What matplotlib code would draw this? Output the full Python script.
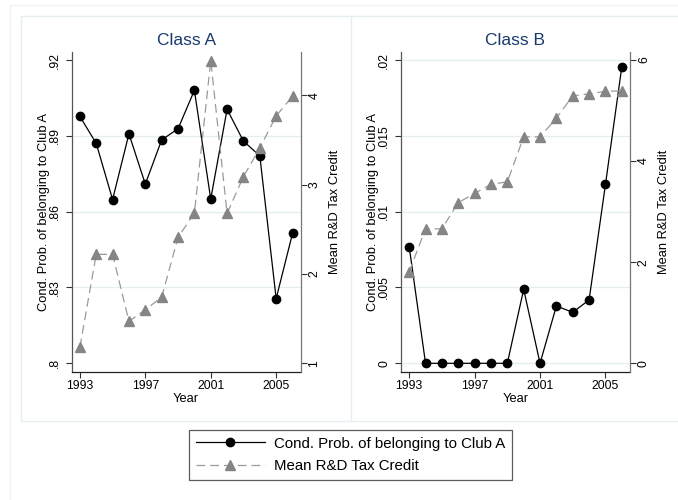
import matplotlib
matplotlib.use("Agg")
import matplotlib.pyplot as plt
from matplotlib.lines import Line2D

plt.rcParams['font.family'] = ['Liberation Sans', 'DejaVu Sans']

years = [1993, 1994, 1995, 1996, 1997, 1998, 1999, 2000, 2001, 2002, 2003, 2004, 2005, 2006]

probA = [0.8977, 0.8870, 0.8648, 0.8908, 0.8709, 0.8884, 0.8928, 0.9080,
         0.8650, 0.9005, 0.8879, 0.8821, 0.8256, 0.8514]
creditA = [1.18, 2.22, 2.22, 1.47, 1.60, 1.74, 2.41, 2.68, 4.39, 2.68, 3.09, 3.41, 3.77, 3.99]

probB = [0.00769, 0.0, 0.0, 0.0, 0.0, 0.0, 0.0, 0.00488, 0.0, 0.00378, 0.00336,
         0.00418, 0.0118, 0.01956]
creditB = [1.81, 2.66, 2.66, 3.18, 3.36, 3.54, 3.59, 4.48, 4.48, 4.85, 5.29, 5.33, 5.38, 5.39]

titles = ["Class A", "Class B"]
xticks = [1993, 1997, 2001, 2005]
leftA_ticks = [0.80, 0.83, 0.86, 0.89, 0.92]
leftA_labels = [".8", ".83", ".86", ".89", ".92"]
rightA_ticks = [1, 2, 3, 4]
leftB_ticks = [0, 0.005, 0.01, 0.015, 0.02]
leftB_labels = ["0", ".005", ".01", ".015", ".02"]
rightB_ticks = [0, 2, 4, 6]

ylabel_left = "Cond. Prob. of belonging to Club A"
ylabel_right = "Mean R&D Tax Credit"
xlabel = "Year"
legend_labels = ["Cond. Prob. of belonging to Club A", "Mean R&D Tax Credit"]

W, H = 678, 500
fig = plt.figure(figsize=(W / 100, H / 100), dpi=100)
fig.patch.set_facecolor('white')

def fx(x):
    return x / W

def fy(y):
    return 1 - y / H

frame_col = '#e6eef1'
# outer frame
fig.add_artist(Line2D([fx(10), fx(10), fx(W + 5)], [fy(H + 5), fy(5), fy(5)],
                      color='#eef3f5', lw=1.0, transform=fig.transFigure))
# panel frames
for xs, ys in [([fx(21), fx(W + 5)], [fy(16), fy(16)]),
               ([fx(21), fx(W + 5)], [fy(421), fy(421)]),
               ([fx(21), fx(21)], [fy(16), fy(421)]),
               ([fx(350.7), fx(350.7)], [fy(16), fy(421)])]:
    fig.add_artist(Line2D(xs, ys, color=frame_col, lw=1.0, transform=fig.transFigure))

fs = 8.8
fs_lab = 9.3
title_col = '#1a3a6e'
grid_col = '#e4edf0'
circ_kw = dict(color='black', lw=0.9, marker='o', markersize=6.0,
               markerfacecolor='black', markeredgecolor='black', zorder=3)
tri_kw = dict(color='#9a9a9a', lw=0.9, linestyle=(0, (7, 4)), marker='^',
              markersize=6.5, markerfacecolor='#858585', markeredgecolor='#858585',
              zorder=3)

panels = [
    dict(x0=71.7, prob=probA, credit=creditA, lt=leftA_ticks, ll=leftA_labels,
         lim=(0.79667, 0.9233), rt=rightA_ticks, rlim=(0.906, 4.489),
         grid=[0.83, 0.86, 0.89]),
    dict(x0=401.0, prob=probB, credit=creditB, lt=leftB_ticks, ll=leftB_labels,
         lim=(-0.000554, 0.02055), rt=rightB_ticks, rlim=(-0.166, 6.164),
         grid=[0, 0.005, 0.01, 0.015, 0.02]),
]

for i, p in enumerate(panels):
    ax = fig.add_axes([fx(p['x0']), fy(371.7), 229 / W, 320 / H])
    ax.set_facecolor('white')
    for g in p['grid']:
        ax.axhline(g, color=grid_col, lw=0.9, zorder=0)
    ax.plot(years, p['prob'], **circ_kw)
    ax.set_xlim(1992.5, 2006.5)
    ax.set_ylim(*p['lim'])
    ax.set_xticks(xticks)
    ax.set_xticklabels([str(t) for t in xticks], fontsize=fs)
    ax.set_yticks(p['lt'])
    ax.set_yticklabels(p['ll'], fontsize=fs, rotation=90, va='center')
    ax.spines['top'].set_visible(False)
    ax.spines['right'].set_visible(False)
    ax.spines['left'].set_color('#555555')
    ax.spines['bottom'].set_color('#222222')
    ax.spines['left'].set_linewidth(0.9)
    ax.spines['bottom'].set_linewidth(0.9)
    ax.tick_params(axis='both', direction='out', length=4.5, width=0.8, color='#333333')
    ax.tick_params(axis='y', pad=3.2)
    ax.tick_params(axis='x', pad=1.5)
    ax.set_xlabel(xlabel, fontsize=fs_lab, labelpad=0.8)
    ax.set_ylabel(ylabel_left, fontsize=fs_lab, labelpad=-0.5)
    ax.set_title(titles[i], fontsize=12.5, color=title_col, pad=4.8)

    ax2 = ax.twinx()
    ax2.plot(years, p['credit'], **tri_kw)
    ax2.set_ylim(*p['rlim'])
    ax2.set_yticks(p['rt'])
    ax2.set_yticklabels([str(t) for t in p['rt']], fontsize=fs, rotation=90, va='center')
    for s in ['top', 'left', 'bottom']:
        ax2.spines[s].set_visible(False)
    ax2.spines['right'].set_color('#777777')
    ax2.spines['right'].set_linewidth(0.9)
    ax2.tick_params(axis='y', direction='out', length=4.5, width=0.8, color='#333333', pad=1.2)
    ax2.set_ylabel(ylabel_right, fontsize=fs_lab, labelpad=6.0)

h1 = Line2D([], [], **circ_kw)
h2 = Line2D([], [], **tri_kw)
leg = fig.legend([h1, h2], legend_labels, loc='center',
                 bbox_to_anchor=(fx(350.5), fy(455)), fontsize=10.8,
                 frameon=True, fancybox=False, edgecolor='#333333',
                 handlelength=4.6, handletextpad=0.65, borderpad=0.45,
                 labelspacing=0.58, borderaxespad=0)
leg.get_frame().set_linewidth(0.9)

fig.savefig("out.png", dpi=100, facecolor='white')
